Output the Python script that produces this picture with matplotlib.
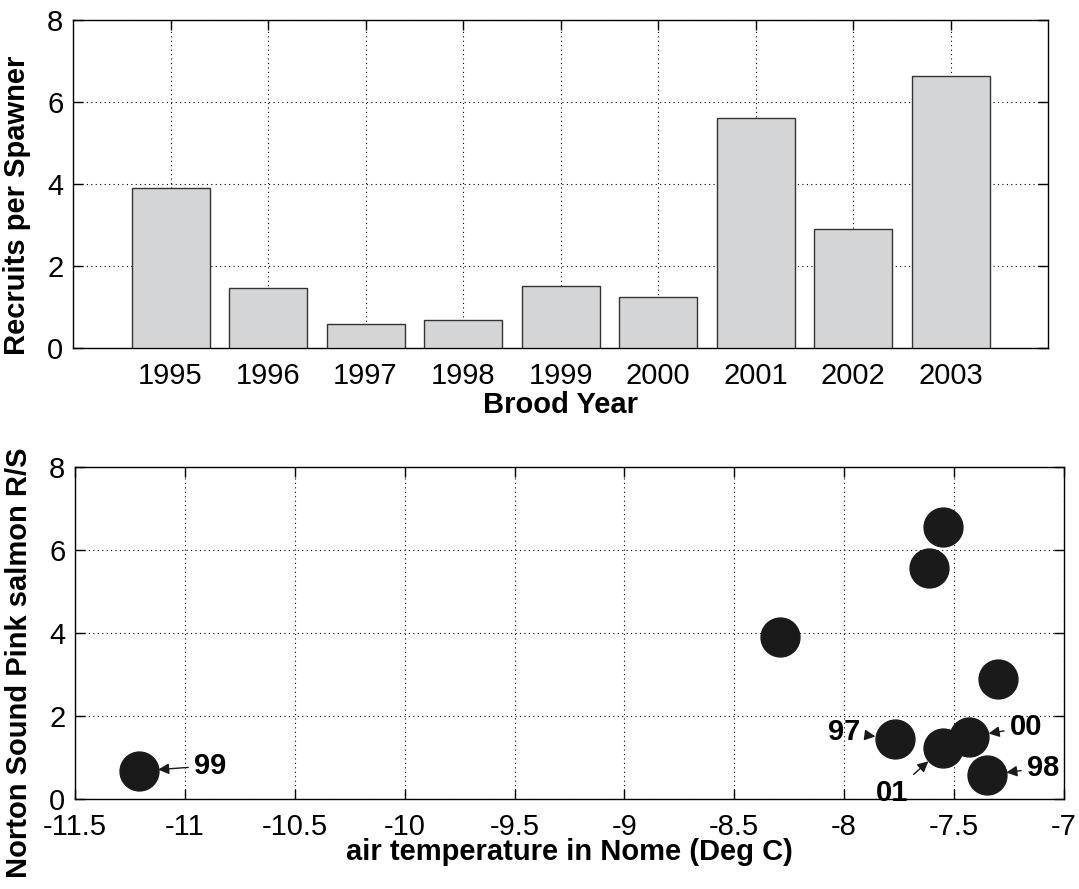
import matplotlib
matplotlib.use("Agg")
import matplotlib.pyplot as plt

# data
years = [1995, 1996, 1997, 1998, 1999, 2000, 2001, 2002, 2003]
rps = [3.9, 1.47, 0.585, 0.68, 1.52, 1.24, 5.6, 2.91, 6.63]

air_temp = [-11.21, -8.29, -7.615, -7.55, -7.30, -7.77, -7.55, -7.43, -7.35]
rs = [0.675, 3.9, 5.56, 6.56, 2.88, 1.446, 1.22, 1.50, 0.58]

# labelled points: (label, x, y, text x, text y)
labels = [("99", -11.21, 0.675, -10.886, 0.80),
          ("97", -7.77, 1.446, -8.0, 1.61),
          ("01", -7.55, 1.22, -7.78, 0.145),
          ("00", -7.43, 1.50, -7.173, 1.73),
          ("98", -7.35, 0.58, -7.096, 0.75)]

plt.rcParams['font.family'] = ['Liberation Sans', 'DejaVu Sans']
plt.rcParams['axes.unicode_minus'] = False
plt.rcParams['font.size'] = 21

fig = plt.figure(figsize=(10.79, 8.89), dpi=100)

def matlab_style(ax):
    ax.tick_params(direction='in', top=True, right=True, length=7, width=1)
    ax.tick_params(axis='x', pad=10)
    ax.tick_params(axis='y', pad=7)
    ax.grid(True, linestyle=(0, (1, 3)), color='black', linewidth=0.8)
    ax.set_axisbelow(True)
    for s in ax.spines.values():
        s.set_linewidth(1.0)

# top panel: bar chart
ax1 = fig.add_axes([0.0677, 0.6086, 0.9036, 0.369])
ax1.bar(years, rps, width=0.8, color='#d4d5d7', edgecolor='#333333', linewidth=1.0, zorder=3)
ax1.set_xlim(1994, 2004)
ax1.set_ylim(0, 8)
ax1.set_xticks(years)
ax1.set_yticks([0, 2, 4, 6, 8])
matlab_style(ax1)
ax1.set_xlabel('Brood Year', fontweight='bold', labelpad=1)
ax1.set_ylabel('Recruits per Spawner', fontweight='bold')
ax1.yaxis.set_label_coords(-0.043, 0.435)

# bottom panel: scatter
ax2 = fig.add_axes([0.0695, 0.1012, 0.9165, 0.3735])
ax2.plot(air_temp, rs, 'o', color='#1a1a1a', markersize=28, zorder=3)
ax2.set_xlim(-11.5, -7)
ax2.set_ylim(0, 8)
ax2.set_xticks([-11.5, -11, -10.5, -10, -9.5, -9, -8.5, -8, -7.5, -7])
ax2.set_xticklabels(['-11.5', '-11', '-10.5', '-10', '-9.5', '-9', '-8.5', '-8', '-7.5', '-7'])
ax2.set_yticks([0, 2, 4, 6, 8])
matlab_style(ax2)
ax2.set_xlabel('air temperature in Nome (Deg C)', fontweight='bold', labelpad=-2)
ax2.set_ylabel('Norton Sound Pink salmon R/S', fontweight='bold')
ax2.yaxis.set_label_coords(-0.042, 0.41)

for lab, x, y, tx, ty in labels:
    ax2.annotate(lab, xy=(x, y), xytext=(tx, ty), fontsize=21, fontweight='bold',
                 ha='center', va='center', zorder=4,
                 arrowprops=dict(arrowstyle='-|>', color='#1a1a1a', lw=1.0,
                                 shrinkA=2, shrinkB=14, mutation_scale=16))

fig.savefig('out.png', dpi=100)
